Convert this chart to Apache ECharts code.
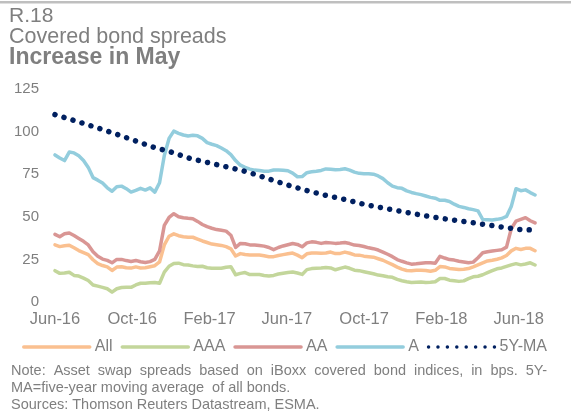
<!DOCTYPE html>
<html><head><meta charset="utf-8">
<script src="https://cdn.jsdelivr.net/npm/echarts@6/dist/echarts.min.js"></script>
<style>html,body{margin:0;padding:0;background:#fff}#c{width:571px;height:418px}</style>
</head><body><div id="c"></div>
<script>
// x positions: months since Jun-16; samples roughly weekly
const sampleStepMonths = 0.246;
const tickLabels = ['Jun-16', 'Oct-16', 'Feb-17', 'Jun-17', 'Oct-17', 'Feb-18', 'Jun-18'];
const seriesNames = ['All', 'AAA', 'AA', 'A', '5Y-MA'];

const allValues = [
  33.5, 32.5, 33, 33.3, 31.8, 30.2, 29, 27.8, 24.8, 22.5,
  21.4, 20.6, 18.5, 20.5, 20.7, 20.1, 19.9, 20.6, 20, 20.1,
  20.7, 21.3, 23.5, 33.5, 38.6, 40, 38.9, 38.3, 38, 38,
  36.9, 35.8, 34.9, 34, 33.6, 33.2, 32.5, 31.2, 27, 28.4,
  27.9, 27.6, 27.6, 27.6, 27.1, 26.6, 26.6, 27.3, 27.8, 28.3,
  28.7, 27.5, 26, 28.3, 28.8, 28.8, 28.6, 28.8, 29.3, 28.4,
  28.5, 29.3, 28.6, 27.6, 27.5, 26.9, 26.6, 26.3, 25.4, 24.5,
  23.2, 21.9, 20.5, 19.3, 18.5, 18.4, 18.6, 18.6, 18.5, 18,
  18.6, 20.8, 20.6, 19.7, 19.4, 19.1, 19.2, 19.6, 20.6, 21.8,
  23, 24.1, 24.5, 25.1, 25.9, 27.3, 30, 31.5, 30.8, 31.5,
  31.5, 30.1
];
const aaaValues = [
  18.4, 16.8, 17, 17.5, 15.6, 15.2, 14, 12.6, 10, 9.3,
  8.6, 7.8, 5.8, 7.8, 8.5, 8.6, 8.6, 10, 11, 11,
  11.3, 11.5, 11, 17.5, 21, 22.6, 22.8, 21.9, 21.7, 21.2,
  20.8, 21, 20.1, 19.8, 19.8, 19.8, 20.4, 20.7, 16, 16.8,
  17.3, 16.1, 16.2, 16.1, 15.6, 15.3, 15.6, 16.4, 16.9, 17.3,
  17.6, 17, 16.2, 19, 19.6, 19.8, 19.9, 20.3, 20, 18.9,
  19.7, 20.5, 19.8, 18.7, 18.4, 17.8, 17.2, 16.6, 15.8, 15.4,
  14.8, 14.5, 13.3, 12.5, 11.9, 11.4, 11.6, 11.8, 11.4, 11.6,
  11.9, 13.8, 13.8, 12.8, 12.5, 12.1, 12.4, 13.7, 14.8, 15.1,
  16, 17.2, 18.4, 19.5, 20, 20.9, 21.8, 22.5, 21.8, 22.3,
  23, 21.7
];
const aaValues = [
  39.7, 38.3, 40, 40.5, 39, 37.3, 35.6, 33.5, 29.5, 26.8,
  25.2, 24.4, 23, 25, 25, 24.3, 23.8, 24.4, 23.6, 23.2,
  23.7, 25, 30, 45, 49.6, 51.8, 50, 49.4, 49.1, 48.9,
  47.3, 45.5, 44.2, 43.3, 42.5, 42.1, 41.6, 39.2, 32, 34.4,
  34.2, 33.5, 33.5, 33.2, 32.8, 32, 30.7, 32, 32.9, 33.6,
  34.3, 33.8, 32.4, 34.7, 35.3, 35, 34.4, 34.9, 34.7, 34.4,
  34.6, 34.9, 34.3, 33.4, 33.2, 32.6, 31.8, 31.3, 30.5, 29.3,
  28, 26.6, 24.9, 23.9, 23, 22.2, 22.4, 22.7, 23, 23,
  22.8, 26.8, 25.8, 24.9, 24.6, 23.9, 23.5, 23, 23.4, 26,
  28.9, 29.5, 29.9, 30.3, 30.7, 32.2, 43, 47.5, 48.5, 49.5,
  47.7, 46.4
];
const aValues = [
  86.3, 84.5, 83, 88, 87.5, 85.8, 83, 79, 73, 71.5,
  69.8, 67, 65, 67.7, 68, 66.5, 64.5, 65.5, 66.7, 65.7,
  67, 64.5, 70, 86, 96, 100.3, 99, 98, 97.4, 97.8,
  97.5, 96, 93.5, 92.6, 91.8, 90.4, 88.8, 86.5, 83, 80.3,
  79, 78, 77.4, 77.2, 76.7, 76.8, 77.5, 77.5, 77.3, 77,
  75.6, 73.5, 73.6, 75.9, 76.4, 76.7, 77.2, 78.1, 77.9, 77.6,
  77.8, 78.2, 77.4, 76.2, 75.5, 75.3, 75.3, 75, 74, 72.4,
  70, 68, 67.1, 66.7, 65.2, 64.3, 63.6, 63, 62.2, 61.4,
  60.9, 59.7, 59.7, 59, 57.4, 56.1, 55.5, 54.7, 54.2, 53.5,
  48.4, 48.3, 48.1, 48.5, 49, 50.2, 56, 66.5, 65.3, 65.8,
  64.2, 62.8
];
// 5Y moving average, one value per month (last one at end of data)
const ma5Values = [
  110, 106.5, 102.9, 99.2, 95.2, 91.2, 88, 84.2, 81.6, 79,
  76.2, 72.5, 68.8, 65.5, 62.6, 60.2, 57.3, 55.1, 53, 50.9,
  49.1, 47.5, 45.9, 44.2, 42.6, 42.2
];
const noteLines = [
  'Note: Asset swap spreads based on iBoxx covered bond indices, in bps. 5Y-',
  'MA=five-year moving average  of all bonds.',
  'Sources: Thomson Reuters Datastream, ESMA.'
];

const FONT = '"Liberation Sans", Arial, sans-serif';
const GRAY = '#7f7f7f';
const colors = ['#FAC090', '#C3D69B', '#D99694', '#93CDDD', '#002060'];

const weekly = vals => vals.map((v, i) => [i * sampleStepMonths, v]);
const lastX = (aValues.length - 1) * sampleStepMonths;
const monthly = vals => vals.map((v, i) => [Math.min(i, lastX), v]);

// justify first note line
const mc = document.createElement('canvas').getContext('2d');
const noteFont = '14.5px ' + FONT;
mc.font = noteFont;
const graphics = [];
graphics.push({type: 'rect', shape: {x: 0, y: 1, width: 571, height: 2.5}, style: {fill: '#bfbfbf'}});
graphics.push({type: 'text', x: 9, y: 16, style: {text: 'R.18', font: '21px ' + FONT, fill: GRAY, verticalAlign: 'middle'}});
graphics.push({type: 'text', x: 9, y: 37, style: {text: 'Covered bond spreads', font: '21.5px ' + FONT, fill: GRAY, verticalAlign: 'middle'}});
graphics.push({type: 'text', x: 9, y: 58, style: {text: 'Increase in May', font: 'bold 23px ' + FONT, fill: GRAY, verticalAlign: 'middle'}});
(function () {
  const words = noteLines[0].split(' ');
  const ws = words.map(w => mc.measureText(w).width);
  const total = ws.reduce((a, b) => a + b, 0);
  const x0 = 11, x1 = 547;
  const gap = (x1 - x0 - total) / (words.length - 1);
  let x = x0;
  words.forEach((w, k) => {
    graphics.push({type: 'text', x: x, y: 371, style: {text: w, font: noteFont, fill: GRAY, verticalAlign: 'middle'}});
    x += ws[k] + gap;
  });
})();
graphics.push({type: 'text', x: 11, y: 388, style: {text: noteLines[1], font: noteFont, fill: GRAY, verticalAlign: 'middle'}});
graphics.push({type: 'text', x: 11, y: 405, style: {text: noteLines[2], font: noteFont, fill: GRAY, verticalAlign: 'middle'}});

const lineSeries = (name, data, color) => ({
  name, type: 'line', data, showSymbol: false, symbol: 'none', smooth: false,
  lineStyle: {color, width: 3.5, cap: 'round', join: 'round'}, itemStyle: {color},
  emphasis: {disabled: true}
});

const chart = echarts.init(document.getElementById('c'), null, {renderer: 'canvas'});
chart.setOption({
  animation: false,
  color: colors,
  grid: {left: 55, right: 33, top: 89, bottom: 116, containLabel: false},
  legend: {
    data: seriesNames, left: 17, top: 334, itemWidth: 66, itemHeight: 14, itemGap: 8,
    textStyle: {color: GRAY, fontSize: 16, fontFamily: FONT}, selectedMode: false,
    itemStyle: {opacity: 0, borderWidth: 0},
    lineStyle: {width: 3.5, cap: 'round'}
  },
  xAxis: {
    type: 'value', min: 0, max: 25, interval: 4,
    axisLine: {show: false}, axisTick: {show: false}, splitLine: {show: false},
    axisLabel: {
      color: GRAY, fontSize: 16.5, fontFamily: FONT, margin: 9,
      formatter: v => (Math.abs(v % 4) < 1e-6 && tickLabels[Math.round(v / 4)]) ? tickLabels[Math.round(v / 4)] : ''
    }
  },
  yAxis: {
    type: 'value', min: 0, max: 125, interval: 25,
    axisLine: {show: false}, axisTick: {show: false}, splitLine: {show: false},
    axisLabel: {color: GRAY, fontSize: 15, fontFamily: FONT, margin: 16}
  },
  series: [
    lineSeries('All', weekly(allValues), colors[0]),
    lineSeries('AAA', weekly(aaaValues), colors[1]),
    lineSeries('AA', weekly(aaValues), colors[2]),
    lineSeries('A', weekly(aValues), colors[3]),
    {
      name: '5Y-MA', type: 'line', data: monthly(ma5Values), showSymbol: false, symbol: 'none',
      lineStyle: {color: colors[4], width: 5.5, type: [0.01, 9.4], cap: 'round'},
      itemStyle: {color: colors[4]}, emphasis: {disabled: true}
    }
  ],
  graphic: graphics
});
</script>
</body></html>
